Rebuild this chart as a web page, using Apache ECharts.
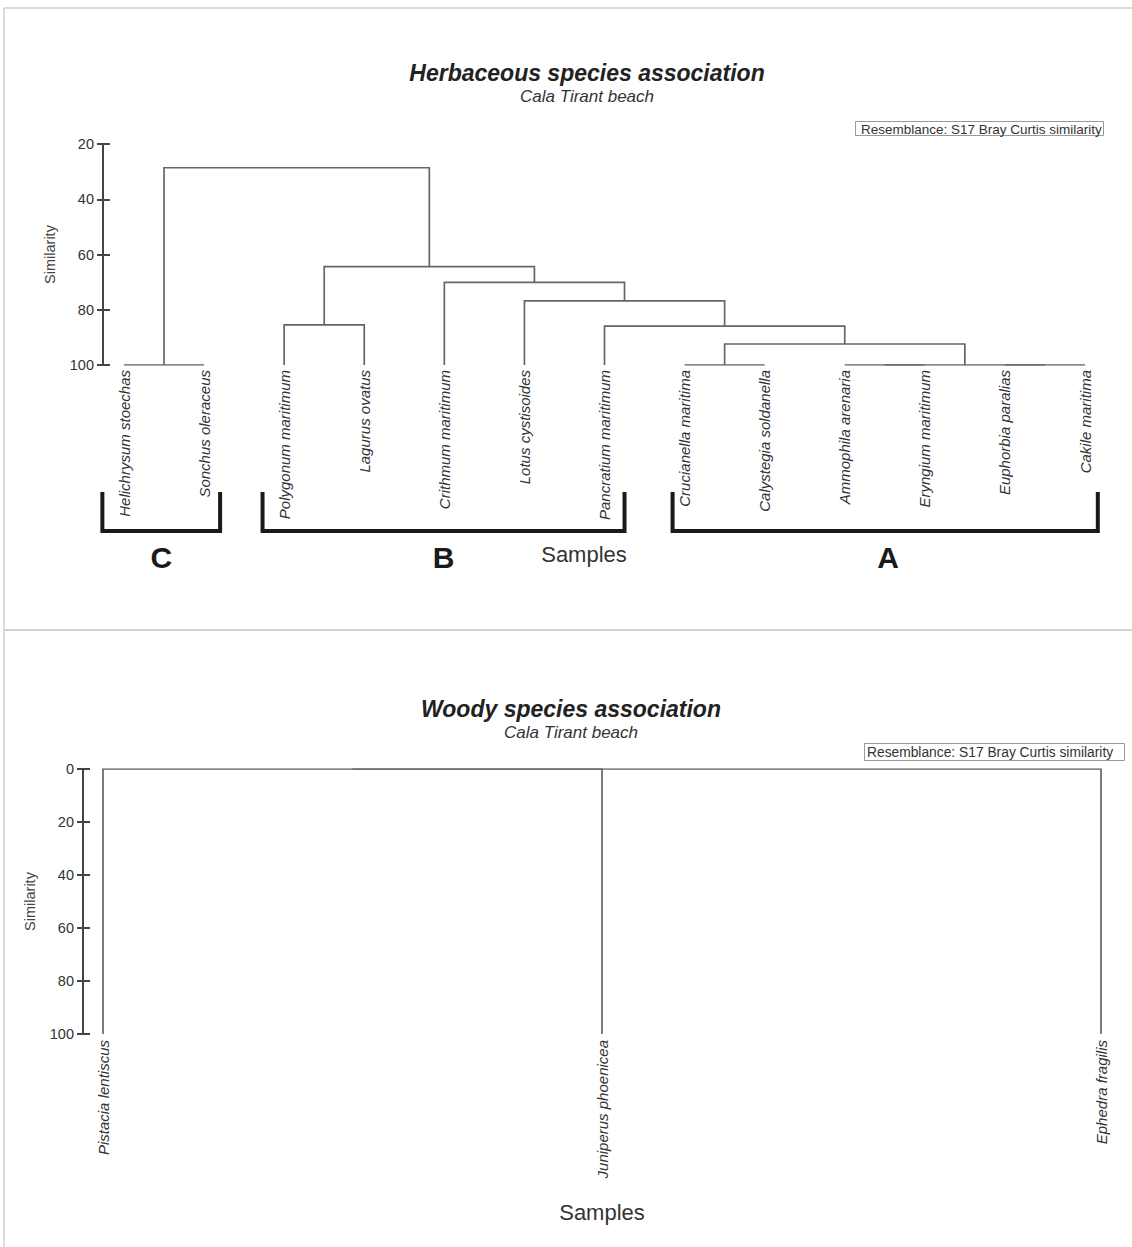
<!DOCTYPE html>
<html>
<head>
<meta charset="utf-8">
<script src="https://cdn.jsdelivr.net/npm/echarts@6/dist/echarts.min.js"></script>
<style>
html,body{margin:0;padding:0;background:#fff;}
#chart{width:1132px;height:1247px;}
</style>
</head>
<body>
<div id="chart"></div>
<script>
// ---------------- DATA ----------------
const leavesTop = ['Helichrysum stoechas', 'Sonchus oleraceus', 'Polygonum maritimum', 'Lagurus ovatus',
  'Crithmum maritimum', 'Lotus cystisoides', 'Pancratium maritimum', 'Crucianella maritima',
  'Calystegia soldanella', 'Ammophila arenaria', 'Eryngium maritimum', 'Euphorbia paralias', 'Cakile maritima'];
// linkage: [node A, node B, similarity at merge]; new node ids continue after the leaves
const linkageTop = [
  [0, 1, 100], [2, 3, 85.5], [7, 8, 100], [9, 10, 100], [11, 12, 100], [16, 17, 100],
  [15, 18, 92.4], [6, 19, 85.9], [5, 20, 76.8], [4, 21, 70.1], [14, 22, 64.4], [13, 23, 28.6]
];
const yTicksTop = [20, 40, 60, 80, 100];

const leavesBottom = ['Pistacia lentiscus', 'Juniperus phoenicea', 'Ephedra fragilis'];
const linkageBottom = [[0, 1, 0], [3, 2, 0]];
const yTicksBottom = [0, 20, 40, 60, 80, 100];

const groupLabels = ['C', 'B', 'A'];
const groupStart = [0, 2, 7];
const groupEnd = [1, 6, 12];

const titleTop = 'Herbaceous species association';
const titleBottom = 'Woody species association';
const subTitle = 'Cala Tirant beach';
const resemblance = 'Resemblance: S17 Bray Curtis similarity';

// ---------------- BUILD ----------------
function buildSegments(leaves, linkage) {
  const x = [], y = [];
  leaves.forEach((_, i) => { x[i] = i; y[i] = 100; });
  const segs = [];
  linkage.forEach(([a, b, h], k) => {
    const id = leaves.length + k;
    segs.push({ coords: [[x[a], y[a]], [x[a], h], [x[b], h], [x[b], y[b]]] });
    x[id] = (x[a] + x[b]) / 2;
    y[id] = h;
  });
  return segs;
}

const FONT = '"Liberation Sans", Arial, Helvetica, sans-serif';
const chart = echarts.init(document.getElementById('chart'), null, { renderer: 'svg' });

function yAxes(gridIndex, ticks, offset) {
  const base = {
    type: 'value', gridIndex: gridIndex, inverse: true,
    min: ticks[0], max: ticks[ticks.length - 1], interval: ticks[1] - ticks[0],
    position: 'left', offset: offset, splitLine: { show: false }
  };
  return [
    Object.assign({}, base, {
      name: 'Similarity', nameLocation: 'middle', nameGap: 46,
      nameTextStyle: { fontFamily: FONT, fontSize: 14.5, color: '#444' },
      axisLine: { show: true, onZero: false, lineStyle: { color: '#444', width: 2 } },
      axisTick: { show: true, length: 6, lineStyle: { color: '#444', width: 2 } },
      axisLabel: { margin: 9, fontFamily: FONT, fontSize: 14.5, color: '#333' }
    }),
    Object.assign({}, base, {
      axisLine: { show: false, onZero: false },
      axisTick: { show: true, inside: true, length: 7, lineStyle: { color: '#444', width: 2 } },
      axisLabel: { show: false }
    })
  ];
}

function xAxis(gridIndex, leaves, nameGap, namePad, margin) {
  return {
    type: 'value', gridIndex: gridIndex, min: 0, max: leaves.length - 1, interval: 1,
    splitLine: { show: false }, axisLine: { show: false, onZero: false }, axisTick: { show: false },
    axisLabel: {
      rotate: 90, margin: margin, fontFamily: FONT, fontSize: 15, fontStyle: 'italic', color: '#333',
      formatter: v => leaves[Math.round(v)] || ''
    },
    name: 'Samples', nameLocation: 'middle', nameGap: nameGap,
    nameTextStyle: { fontFamily: FONT, fontSize: 22, color: '#333', padding: namePad }
  };
}

const lineStyle = { color: '#666', width: 1.7, opacity: 1, curveness: 0 };

chart.setOption({
  animation: false,
  backgroundColor: '#fff',
  title: [
    { text: titleTop, subtext: subTitle, left: 587, top: 61, textAlign: 'center', padding: 0, itemGap: 4,
      textStyle: { fontFamily: FONT, fontSize: 23, fontWeight: 'bold', fontStyle: 'italic', color: '#222' },
      subtextStyle: { fontFamily: FONT, fontSize: 17, fontStyle: 'italic', color: '#333' } },
    { text: titleBottom, subtext: subTitle, left: 571, top: 697, textAlign: 'center', padding: 0, itemGap: 4,
      textStyle: { fontFamily: FONT, fontSize: 23, fontWeight: 'bold', fontStyle: 'italic', color: '#222' },
      subtextStyle: { fontFamily: FONT, fontSize: 17, fontStyle: 'italic', color: '#333' } },
    { text: resemblance, left: 855, top: 121, padding: [1, 2, 0, 6], borderColor: '#999', borderWidth: 1,
      textStyle: { fontFamily: FONT, fontSize: 13.5, lineHeight: 14, fontWeight: 'normal', color: '#333' } },
    { text: resemblance, left: 864, top: 743, padding: [2, 12, 2, 3], borderColor: '#999', borderWidth: 1,
      textStyle: { fontFamily: FONT, fontSize: 13.8, lineHeight: 14, fontWeight: 'normal', color: '#333' } }
  ],
  grid: [
    { left: 124, top: 144, width: 961, height: 221 },
    { left: 103, top: 769, width: 998, height: 265 }
  ],
  xAxis: [
    xAxis(0, leavesTop, 178, [0, 41, 0, 0], 5),
    xAxis(1, leavesBottom, 167, 0, 6)
  ],
  yAxis: yAxes(0, yTicksTop, 21).concat(yAxes(1, yTicksBottom, 20)),
  series: [
    { type: 'lines', coordinateSystem: 'cartesian2d', xAxisIndex: 0, yAxisIndex: 0, polyline: true,
      silent: true, lineStyle: lineStyle, data: buildSegments(leavesTop, linkageTop) },
    { type: 'lines', coordinateSystem: 'cartesian2d', xAxisIndex: 1, yAxisIndex: 2, polyline: true,
      silent: true, lineStyle: lineStyle, data: buildSegments(leavesBottom, linkageBottom) }
  ]
});

// ---------------- ANNOTATIONS (group brackets, frame) ----------------
const bracketPadL = [0.27, 0.27, 0.15], bracketPadR = [0.2, 0.25, 0.16];
const bracketTop = 492, bracketBottom = 531, letterY = 557;
const graphics = [
  { type: 'line', shape: { x1: 4, y1: 8, x2: 1132, y2: 8 }, style: { stroke: '#cfcfcf', lineWidth: 1.5 } },
  { type: 'line', shape: { x1: 4, y1: 8, x2: 4, y2: 1247 }, style: { stroke: '#cfcfcf', lineWidth: 1.5 } },
  { type: 'line', shape: { x1: 4, y1: 630, x2: 1132, y2: 630 }, style: { stroke: '#d3d3d3', lineWidth: 2 } }
];
groupLabels.forEach((lab, i) => {
  const xl = chart.convertToPixel({ xAxisIndex: 0 }, groupStart[i] - bracketPadL[i]);
  const xr = chart.convertToPixel({ xAxisIndex: 0 }, groupEnd[i] + bracketPadR[i]);
  graphics.push({
    type: 'polyline',
    shape: { points: [[xl, bracketTop], [xl, bracketBottom], [xr, bracketBottom], [xr, bracketTop]] },
    style: { stroke: '#1a1a1a', lineWidth: 4, fill: null, lineJoin: 'miter' }
  });
  graphics.push({
    type: 'text', x: (xl + xr) / 2 + (i === 2 ? 3 : 0), y: letterY,
    style: { text: lab, fontFamily: FONT, fontSize: 30, fontWeight: 'bold', fill: '#1a1a1a',
      align: 'center', verticalAlign: 'middle' }
  });
});
chart.setOption({ graphic: graphics });
</script>
</body>
</html>
